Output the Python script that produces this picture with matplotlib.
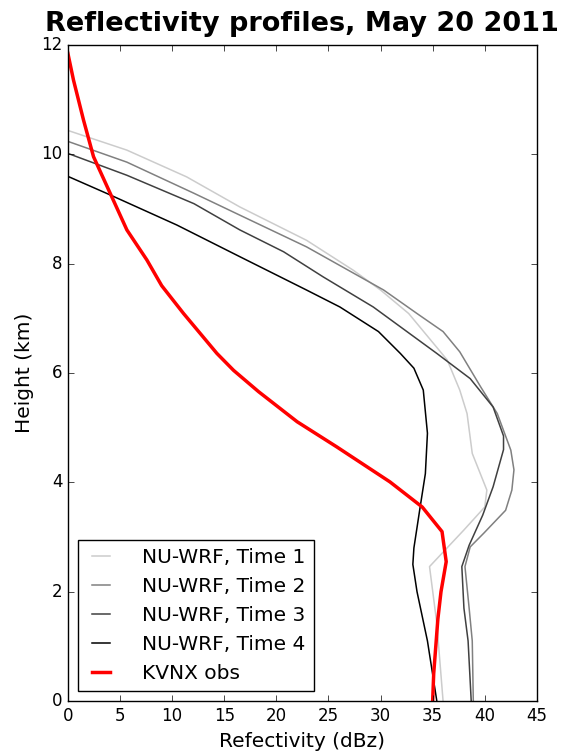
import matplotlib
matplotlib.use('Agg')
import matplotlib.pyplot as plt

plt.style.use('classic')
plt.rcParams['figure.facecolor'] = 'white'

# Profili reflettivita' (altezza in km, dBZ)
h_t1 = [0.0, 1.42, 2.46, 3.13, 3.55, 3.86, 4.53, 5.26, 5.69, 6.24, 7.09, 7.52, 7.88, 8.43, 9.04, 9.59, 10.08, 10.44]
z_t1 = [36.0, 35.4, 34.7, 38.0, 40.0, 40.2, 38.8, 38.3, 37.6, 36.4, 32.7, 30.0, 27.4, 22.9, 16.5, 11.4, 5.66, 0.0]

h_t2 = [0.0, 1.1, 1.7, 2.46, 2.82, 3.07, 3.49, 3.86, 4.23, 4.59, 5.26, 5.75, 6.39, 6.76, 7.09, 7.52, 8.31, 8.89, 9.29, 9.86, 10.24]
z_t2 = [38.9, 38.8, 38.5, 38.1, 38.6, 39.9, 42.0, 42.6, 42.8, 42.5, 41.2, 39.6, 37.6, 36.0, 33.5, 30.3, 22.9, 16.5, 12.1, 5.66, 0.0]

h_t3 = [0.0, 1.1, 1.7, 2.46, 2.85, 3.4, 3.92, 4.6, 4.85, 5.38, 5.9, 6.36, 7.21, 7.76, 8.22, 8.62, 9.1, 9.62, 10.02]
z_t3 = [38.7, 38.4, 38.0, 37.8, 38.5, 39.8, 40.8, 41.8, 41.8, 40.8, 38.6, 35.4, 29.3, 24.5, 20.7, 16.5, 12.1, 5.66, 0.0]

h_t4 = [0.0, 1.1, 2.0, 2.5, 2.8, 3.55, 4.16, 4.9, 5.69, 6.09, 6.36, 6.76, 7.21, 7.52, 8.13, 8.71, 9.26, 9.6]
z_t4 = [35.4, 34.5, 33.5, 33.1, 33.2, 33.8, 34.3, 34.5, 34.1, 33.2, 31.9, 29.8, 26.1, 22.9, 16.5, 10.45, 4.06, 0.0]

h_obs = [0.0, 0.5, 1.0, 1.5, 2.0, 2.55, 3.1, 3.55, 4.01, 4.65, 5.11, 5.66, 6.05, 6.36, 7.09, 7.6, 8.07, 8.62, 9.29, 9.96, 10.63, 11.36, 11.85]
z_obs = [35.0, 35.1, 35.3, 35.5, 35.8, 36.3, 35.9, 34.0, 30.9, 25.8, 22.0, 18.3, 15.9, 14.3, 11.1, 9.0, 7.58, 5.66, 4.06, 2.46, 1.5, 0.54, 0.0]

fig = plt.figure(figsize=(5.61, 7.53), dpi=100)
ax = fig.add_axes([0.121, 0.069, 0.836, 0.871])

ax.plot(z_t1, h_t1, color='0.8', lw=1.1, label='NU-WRF, Time 1')
ax.plot(z_t2, h_t2, color='0.5', lw=1.1, label='NU-WRF, Time 2')
ax.plot(z_t3, h_t3, color='0.25', lw=1.1, label='NU-WRF, Time 3')
ax.plot(z_t4, h_t4, color='k', lw=1.1, label='NU-WRF, Time 4')
ax.plot(z_obs, h_obs, color='r', lw=2.5, label='KVNX obs')

ax.set_xlim(0, 45)
ax.set_ylim(0, 12)
ax.set_xlabel('Refectivity (dBz)', fontsize=14.5)
ax.set_ylabel('Height (km)', fontsize=14.5)
ax.set_title('Reflectivity profiles, May 20 2011', fontsize=19.5, fontweight='bold', pad=10)
ax.legend(loc='lower left', fontsize=14.5, handlelength=1.5, handletextpad=1.3)

fig.savefig('out.png', dpi=100)
